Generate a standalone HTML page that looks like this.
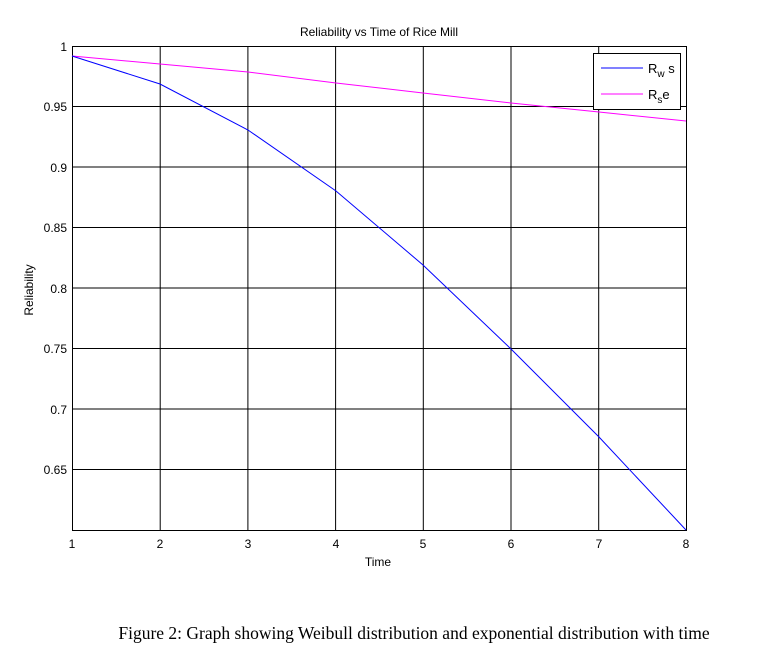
<!DOCTYPE html>
<html><head><style>
body{margin:0;background:#fff;width:779px;height:663px;overflow:hidden}
</style></head><body>
<svg width="779" height="663" xmlns="http://www.w3.org/2000/svg" font-family="Liberation Sans, Arial, sans-serif">
<rect width="779" height="663" fill="#fff"/>
<g stroke="#000" stroke-width="1" fill="none">
<rect x="72.5" y="46.5" width="614" height="484"/>
<path d="M160.2 46V531M247.9 46V531M335.6 46V531M423.3 46V531M511 46V531M598.7 46V531"/>
<path d="M72 106.5H686M72 167H686M72 227.5H686M72 288H686M72 348.5H686M72 409H686M72 469.5H686"/>
</g>
<polyline fill="none" stroke="#ff00ff" stroke-width="1" points="72,56 160,64 248,72 336,83 423,93 511,103 599,112 686,121"/>
<polyline fill="none" stroke="#0000ff" stroke-width="1" points="72,56 160,84 248,130 336,191 423,265 511,349 599,437 686,530"/>
<g font-size="12" fill="#000" text-anchor="end">
<text x="67" y="51">1</text><text x="67" y="111">0.95</text><text x="67" y="172">0.9</text>
<text x="67" y="232">0.85</text><text x="67" y="293">0.8</text><text x="67" y="353">0.75</text>
<text x="67" y="414">0.7</text><text x="67" y="474">0.65</text>
</g>
<g font-size="12" fill="#000" text-anchor="middle">
<text x="72" y="548">1</text><text x="160" y="548">2</text><text x="248" y="548">3</text><text x="336" y="548">4</text>
<text x="423" y="548">5</text><text x="511" y="548">6</text><text x="599" y="548">7</text><text x="686" y="548">8</text>
<text x="378" y="566">Time</text>
<text x="379" y="36">Reliability vs Time of Rice Mill</text>
<text transform="translate(33,290) rotate(-90)">Reliability</text>
</g>
<rect x="593.5" y="53.5" width="87" height="56" fill="#fff" stroke="#000"/>
<line x1="601" y1="68" x2="643" y2="68" stroke="#0000ff"/>
<line x1="601" y1="94" x2="643" y2="94" stroke="#ff00ff"/>
<text x="648" y="73" font-size="13">R<tspan font-size="10" dy="4">w</tspan><tspan dy="-4"> s</tspan></text>
<text x="648" y="99" font-size="13">R<tspan font-size="10" dy="4">s</tspan><tspan dy="-4">e</tspan></text>
<text x="414" y="639" font-family="Liberation Serif, serif" font-size="17.5" text-anchor="middle">Figure 2: Graph showing Weibull distribution and exponential distribution with time</text>
</svg>
</body></html>
